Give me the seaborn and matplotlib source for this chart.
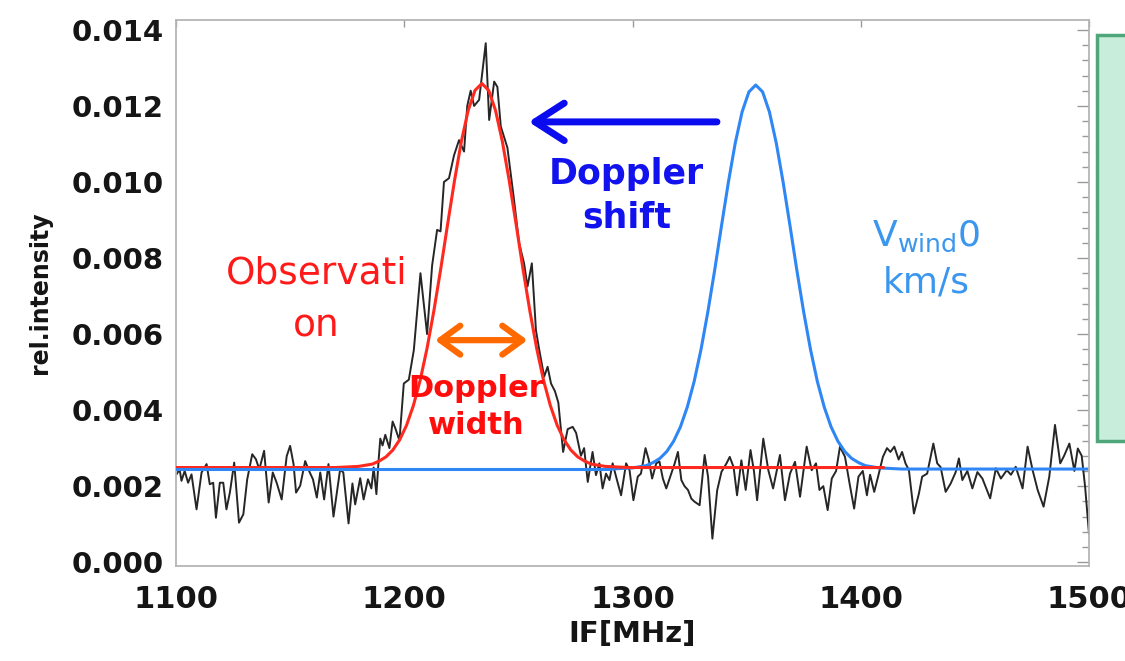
import numpy as np
import pandas as pd
import matplotlib
matplotlib.use("Agg")
import matplotlib.pyplot as plt
import seaborn as sns
from matplotlib.ticker import MultipleLocator, FormatStrFormatter
from matplotlib.patches import Rectangle

obs_freq = [1100.2, 1101.6, 1102.4, 1103.8, 1105.3, 1106.8, 1109.0, 1111.2, 1113.4, 1114.8,
            1116.3, 1117.5, 1119.2, 1120.7, 1122.1, 1123.6, 1125.5, 1127.6, 1129.5, 1131.2,
            1133.4, 1135.0, 1136.5, 1138.6, 1140.6, 1142.4, 1144.1, 1146.3, 1148.5, 1150.0,
            1151.5, 1152.6, 1154.4, 1156.6, 1158.0, 1160.0, 1161.7, 1163.2, 1164.9, 1166.8,
            1169.0, 1171.9, 1173.3, 1175.6, 1177.3, 1178.5, 1180.7, 1182.2, 1184.1, 1185.6,
            1186.6, 1187.8, 1188.8, 1189.5, 1190.5, 1191.7, 1193.5, 1194.9, 1196.1, 1197.9,
            1199.8, 1202.0, 1204.2, 1207.1, 1210.0, 1212.2, 1214.4, 1215.9, 1217.4, 1219.6,
            1221.8, 1224.0, 1226.2, 1227.6, 1229.1, 1230.6, 1232.8, 1235.7, 1237.2, 1239.4,
            1240.8, 1242.3, 1245.2, 1248.1, 1250.3, 1252.5, 1254.0, 1255.9, 1257.7, 1259.1,
            1261.3, 1262.8, 1264.3, 1266.0, 1267.5, 1269.6, 1271.6, 1273.8, 1275.3, 1277.4,
            1278.8, 1280.4, 1282.5, 1284.0, 1285.5, 1286.9, 1288.4, 1289.9, 1291.3, 1292.8,
            1295.0, 1297.2, 1298.7, 1300.4, 1302.3, 1303.7, 1305.7, 1307.1, 1308.6, 1310.4,
            1311.8, 1313.3, 1314.8, 1317.0, 1318.5, 1319.9, 1321.4, 1322.8, 1324.3, 1325.8,
            1327.2, 1329.4, 1331.6, 1333.1, 1335.0, 1337.1, 1339.0, 1341.2, 1342.6, 1344.3,
            1345.8, 1347.7, 1349.6, 1351.7, 1353.2, 1354.6, 1357.3, 1359.5, 1361.6, 1364.6,
            1366.8, 1369.0, 1371.2, 1373.4, 1376.3, 1378.5, 1380.4, 1381.9, 1383.6, 1385.5,
            1387.3, 1389.2, 1390.9, 1393.1, 1395.1, 1397.1, 1399.0, 1400.9, 1402.7, 1404.1,
            1405.9, 1407.8, 1409.7, 1411.5, 1413.0, 1414.7, 1416.6, 1418.1, 1419.6, 1421.1,
            1423.3, 1425.5, 1426.9, 1429.1, 1431.8, 1433.5, 1435.0, 1437.2, 1439.4, 1441.6,
            1443.0, 1444.5, 1446.7, 1448.9, 1451.1, 1453.3, 1456.7, 1459.2, 1461.4, 1464.0,
            1465.8, 1467.9, 1470.9, 1473.1, 1475.3, 1477.5, 1480.1, 1482.6, 1485.1, 1487.4,
            1489.1, 1491.4, 1493.6, 1495.1, 1496.8, 1498.3, 1500.0]
obs_int = [0.00231, 0.00244, 0.00214, 0.00240, 0.00209, 0.00231, 0.00139, 0.00236, 0.00258, 0.00205,
           0.00209, 0.00117, 0.00209, 0.00209, 0.00139, 0.00183, 0.00262, 0.00104, 0.00126, 0.00218,
           0.00284, 0.00271, 0.00244, 0.00293, 0.00157, 0.00236, 0.00209, 0.00165, 0.00279, 0.00306,
           0.00258, 0.00183, 0.00201, 0.00266, 0.00244, 0.00218, 0.00170, 0.00236, 0.00165, 0.00258,
           0.00120, 0.00244, 0.00236, 0.00102, 0.00207, 0.00152, 0.00221, 0.00165, 0.00218, 0.00194,
           0.00249, 0.00179, 0.00271, 0.00325, 0.00307, 0.00335, 0.00300, 0.00370, 0.00352, 0.00320,
           0.00470, 0.00480, 0.00558, 0.00760, 0.00600, 0.00780, 0.00874, 0.00870, 0.01000, 0.01010,
           0.01070, 0.01110, 0.01080, 0.01200, 0.01240, 0.01200, 0.01216, 0.01365, 0.01163, 0.01264,
           0.01250, 0.01146, 0.01090, 0.00953, 0.00840, 0.00786, 0.00725, 0.00786, 0.00610, 0.00560,
           0.00488, 0.00514, 0.00470, 0.00450, 0.00420, 0.00290, 0.00350, 0.00356, 0.00340, 0.00280,
           0.00300, 0.00211, 0.00290, 0.00229, 0.00260, 0.00194, 0.00233, 0.00216, 0.00260, 0.00225,
           0.00176, 0.00260, 0.00242, 0.00163, 0.00225, 0.00233, 0.00300, 0.00270, 0.00220, 0.00260,
           0.00265, 0.00220, 0.00194, 0.00233, 0.00260, 0.00290, 0.00216, 0.00200, 0.00190, 0.00167,
           0.00159, 0.00150, 0.00282, 0.00225, 0.00062, 0.00189, 0.00238, 0.00260, 0.00277, 0.00250,
           0.00176, 0.00268, 0.00190, 0.00295, 0.00240, 0.00163, 0.00325, 0.00242, 0.00194, 0.00282,
           0.00163, 0.00233, 0.00264, 0.00172, 0.00304, 0.00242, 0.00260, 0.00190, 0.00200, 0.00137,
           0.00220, 0.00240, 0.00304, 0.00277, 0.00207, 0.00141, 0.00225, 0.00240, 0.00176, 0.00230,
           0.00185, 0.00230, 0.00277, 0.00300, 0.00290, 0.00304, 0.00270, 0.00290, 0.00260, 0.00242,
           0.00128, 0.00181, 0.00225, 0.00233, 0.00312, 0.00260, 0.00250, 0.00185, 0.00207, 0.00237,
           0.00273, 0.00216, 0.00240, 0.00194, 0.00237, 0.00220, 0.00168, 0.00247, 0.00220, 0.00242,
           0.00230, 0.00251, 0.00194, 0.00304, 0.00242, 0.00190, 0.00146, 0.00225, 0.00361, 0.00260,
           0.00280, 0.00312, 0.00240, 0.00299, 0.00280, 0.00198, 0.00075]

# fitted line (red)
fit_freq = [1100, 1170, 1180, 1186, 1189, 1192, 1195, 1198, 1201, 1204, 1207, 1210, 1213, 1216,
            1219, 1222, 1225, 1228, 1231, 1234, 1237, 1240, 1243, 1246, 1249, 1252, 1255, 1258,
            1261, 1264, 1267, 1270, 1273, 1276, 1279, 1282, 1288, 1298, 1410]
fit_int = [0.00249, 0.00249, 0.00252, 0.00258, 0.00266, 0.00277, 0.00295, 0.00322, 0.00360, 0.00412,
           0.00479, 0.00563, 0.00662, 0.00772, 0.00889, 0.01003, 0.01106, 0.01188, 0.01241, 0.01259,
           0.01241, 0.01188, 0.01106, 0.01003, 0.00889, 0.00772, 0.00662, 0.00563, 0.00479, 0.00412,
           0.00360, 0.00322, 0.00295, 0.00277, 0.00266, 0.00258, 0.00252, 0.00249, 0.00249]

# line for zero wind (blue)
rest_freq = [1100, 1290, 1300, 1306, 1309, 1312, 1315, 1318, 1321, 1324, 1327, 1330, 1333, 1336,
             1339, 1342, 1345, 1348, 1351, 1354, 1357, 1360, 1363, 1366, 1369, 1372, 1375, 1378,
             1381, 1384, 1387, 1390, 1393, 1396, 1399, 1402, 1408, 1418, 1500]
rest_int = [0.00245, 0.00245, 0.00248, 0.00254, 0.00262, 0.00273, 0.00291, 0.00318, 0.00356, 0.00408,
            0.00475, 0.00559, 0.00658, 0.00768, 0.00885, 0.00999, 0.01102, 0.01184, 0.01237, 0.01255,
            0.01237, 0.01184, 0.01102, 0.00999, 0.00885, 0.00768, 0.00658, 0.00559, 0.00475, 0.00408,
            0.00356, 0.00318, 0.00291, 0.00273, 0.00262, 0.00254, 0.00248, 0.00245, 0.00245]

obs = pd.DataFrame({"freq": obs_freq, "intensity": obs_int})
fit = pd.DataFrame({"freq": fit_freq, "intensity": fit_int})
rest = pd.DataFrame({"freq": rest_freq, "intensity": rest_int})

sns.set_theme(style="white")
plt.rcParams["font.family"] = ["DejaVu Sans"]

fig = plt.figure(figsize=(11.25, 6.61), dpi=100)
ax = fig.add_axes([176 / 1125, 1 - 566 / 661, (1089 - 176) / 1125, (566 - 20) / 661])

sns.lineplot(data=obs, x="freq", y="intensity", ax=ax, color="#262626", lw=1.4, zorder=1)
sns.lineplot(data=rest[rest.freq >= 1290], x="freq", y="intensity", ax=ax,
             color="#2f86f5", lw=2.2, zorder=2)
sns.lineplot(data=fit, x="freq", y="intensity", ax=ax, color="#ff2a1f", lw=2.2, zorder=3)
sns.lineplot(data=rest[rest.freq <= 1290], x="freq", y="intensity", ax=ax,
             color="#2f86f5", lw=2.2, zorder=4)

ax.set_xlim(1100, 1500)
ax.set_ylim(-0.0001, 0.01426)
ax.xaxis.set_major_locator(MultipleLocator(100))
ax.yaxis.set_major_locator(MultipleLocator(0.002))
ax.yaxis.set_minor_locator(MultipleLocator(0.0004))
ax.yaxis.set_major_formatter(FormatStrFormatter("%.3f"))
ax.tick_params(which="both", direction="in", right=True, top=True, color="#9a9a9a", width=1)
ax.tick_params(which="major", length=9)
ax.tick_params(which="minor", length=5)
ax.tick_params(axis="y", which="major", pad=9)
ax.tick_params(axis="x", which="major", length=5, pad=14)
for lab in ax.get_yticklabels():
    lab.set_fontsize(21)
    lab.set_fontweight("bold")
    lab.set_color("#151515")
for lab in ax.get_xticklabels():
    lab.set_fontsize(22)
    lab.set_fontweight("bold")
    lab.set_color("#151515")
for sp in ax.spines.values():
    sp.set_color("#b5b5b5")
    sp.set_linewidth(1.3)

ax.set_xlabel("IF[MHz]", fontsize=21, fontweight="bold", color="#151515", labelpad=4)
ax.set_ylabel("rel.intensity", fontsize=17, fontweight="bold", color="#151515", labelpad=14)

# annotations
ax.text(1161.5, 0.00690, "Observati\non", color="#ff1a1a", fontsize=27,
        ha="center", va="center", linespacing=1.6)
ax.text(1231.5, 0.00408, "Doppler\nwidth", color="#ff0d0d", fontsize=22, fontweight="bold",
        ha="center", va="center", linespacing=1.35)
ax.text(1297.5, 0.00963, "Doppler\nshift", color="#1212ee", fontsize=25, fontweight="bold",
        ha="center", va="center", linespacing=1.35)
ax.text(1428.5, 0.00797, "V$_{\\mathregular{wind}}$0\nkm/s", color="#3a96ee", fontsize=26,
        ha="center", va="center", linespacing=1.45)

ax.annotate("", xy=(1254.5, 0.01158), xytext=(1337, 0.01158),
            arrowprops=dict(arrowstyle="->,head_length=0.7,head_width=0.45", color="#0b0bf0",
                            lw=5, mutation_scale=30, capstyle="round", joinstyle="round",
                            shrinkA=0, shrinkB=0))
ax.annotate("", xy=(1213.5, 0.00584), xytext=(1254, 0.00584),
            arrowprops=dict(arrowstyle="<->,head_length=0.55,head_width=0.4", color="#ff6a00",
                            lw=4.5, mutation_scale=26, capstyle="round", joinstyle="round",
                            shrinkA=0, shrinkB=0))

# green note box cut off at the right edge
fig.patches.append(Rectangle((1097 / 1125, 1 - 441 / 661), 0.1, (441 - 35) / 661,
                             transform=fig.transFigure, facecolor="#c8eedb",
                             edgecolor="#4fa67a", lw=2.5, zorder=0))

fig.savefig("out.png", dpi=100)
